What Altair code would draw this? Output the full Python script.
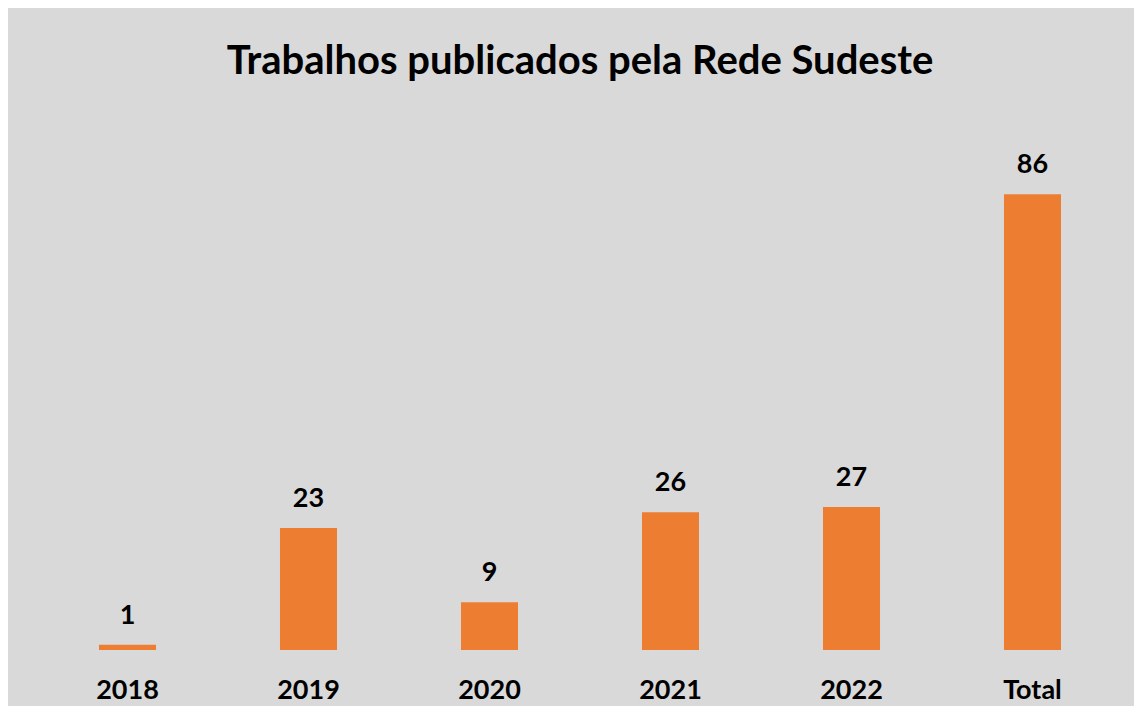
import altair as alt
import pandas as pd

categories = ["2018", "2019", "2020", "2021", "2022", "Total"]
values = [1, 23, 9, 26, 27, 86]

df = pd.DataFrame({"cat": categories, "val": values})

FONT = "Lato"

base = alt.Chart(df).encode(
    x=alt.X(
        "cat:N",
        sort=categories,
        title=None,
        scale=alt.Scale(paddingInner=0.685, paddingOuter=0.3425),
        axis=alt.Axis(
            labelAngle=0,
            ticks=False,
            domain=False,
            grid=False,
            labelFont=FONT,
            labelFontSize=27,
            labelFontWeight="bold",
            labelColor="#000000",
            labelBaseline="alphabetic",
            labelPadding=48,
        ),
    ),
    y=alt.Y("val:Q", scale=alt.Scale(domain=[0, 100]), axis=None),
)

bars = base.mark_bar(color="#ED7D31")
labels = base.mark_text(
    font=FONT, fontSize=27, fontWeight="bold", color="#000000",
    baseline="alphabetic", dy=-21,
).encode(text="val:Q")

chart = (bars + labels).properties(
    width=1086,
    height=530,
    background="#D9D9D9",
    padding={"left": 29, "top": 112, "right": 11, "bottom": 56},
    autosize=alt.AutoSizeParams(type="none"),
    title=alt.TitleParams(
        "Trabalhos publicados pela Rede Sudeste",
        font=FONT, fontSize=40, fontWeight="bold", color="#000000",
        anchor="middle", baseline="alphabetic", offset=6,
    ),
).configure_view(stroke=None)

chart.save("out.html", embed_options={"renderer": "svg", "actions": False})
